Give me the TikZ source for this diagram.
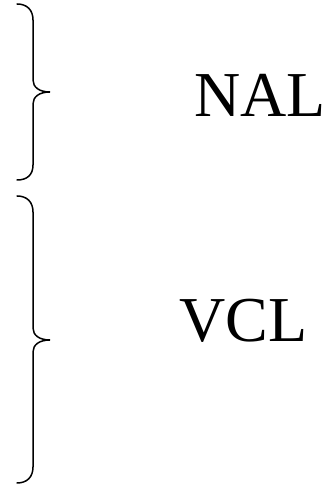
\documentclass[tikz,border=0pt]{standalone}
\usepackage{fontspec}
\setmainfont{Liberation Serif}

\begin{document}
\begin{tikzpicture}[x=1pt,y=1pt,
  bracket/.style={line width=1.5pt,line cap=round},
  tag/.style={font=\fontsize{64}{70}\selectfont,inner sep=0pt,anchor=base west}]
  \useasboundingbox (0,0) rectangle (328,486);
  % upper brace
  \draw[bracket] (17,482) .. controls (27,482) and (33,476) .. (33,466) -- (33,406)
    .. controls (33,399) and (39,394) .. (50,394)
    .. controls (39,394) and (33,389) .. (33,382) -- (33,321)
    .. controls (33,311) and (27,306) .. (17,306);
  % lower brace
  \draw[bracket] (17,290) .. controls (27,290) and (33,284) .. (33,274) -- (33,158)
    .. controls (33,151) and (39,146) .. (50,146)
    .. controls (39,146) and (33,141) .. (33,134) -- (33,19)
    .. controls (33,9) and (27,3) .. (17,3);
  \node[tag] (nal) at (194,369) {NAL};
  \node[tag] (vcl) at (179,144) {VCL};
\end{tikzpicture}
\end{document}
